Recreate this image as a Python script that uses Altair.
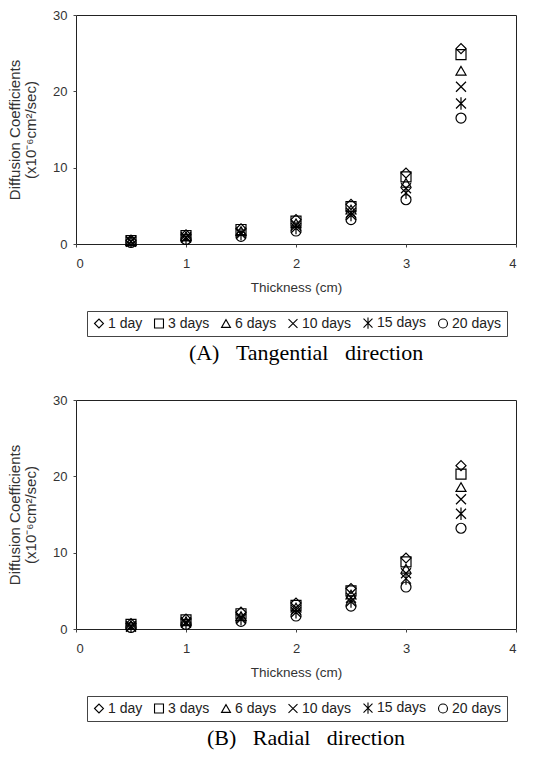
import altair as alt
import pandas as pd

thickness = [0.5, 1.0, 1.5, 2.0, 2.5, 3.0, 3.5]
series = ["1 day", "3 days", "6 days", "10 days", "15 days", "20 days"]

tang_1 = [0.5, 1.2, 2.0, 3.2, 5.2, 9.3, 25.6]
tang_3 = [0.45, 1.1, 1.9, 3.0, 4.9, 8.8, 24.8]
tang_6 = [0.4, 1.0, 1.7, 2.7, 4.5, 8.0, 22.7]
tang_10 = [0.35, 0.9, 1.5, 2.4, 4.1, 7.3, 20.6]
tang_15 = [0.3, 0.8, 1.3, 2.1, 3.8, 6.7, 18.4]
tang_20 = [0.2, 0.6, 1.0, 1.7, 3.2, 5.8, 16.5]

rad_1 = [0.7, 1.3, 2.2, 3.4, 5.3, 9.3, 21.4]
rad_3 = [0.6, 1.2, 2.0, 3.1, 5.0, 8.8, 20.3]
rad_6 = [0.5, 1.0, 1.7, 2.8, 4.5, 7.9, 18.6]
rad_10 = [0.4, 0.9, 1.5, 2.5, 4.1, 7.3, 17.0]
rad_15 = [0.3, 0.8, 1.3, 2.2, 3.6, 6.6, 15.1]
rad_20 = [0.2, 0.6, 1.0, 1.7, 3.0, 5.5, 13.2]

x_path = "M-1,-1L1,1M-1,1L1,-1"
ast_path = "M-1,-1L1,1M-1,1L1,-1M0,-1.25L0,1.25"
shapes = ["diamond", "square", "triangle-up", x_path, ast_path, "circle"]

SP = "\u00a0\u00a0\u00a0"


def make_df(cols):
    rows = []
    for s, vals in zip(series, cols):
        for t, v in zip(thickness, vals):
            rows.append({"Thickness": t, "D": v, "Days": s})
    return pd.DataFrame(rows)


df_a = make_df([tang_1, tang_3, tang_6, tang_10, tang_15, tang_20])
df_b = make_df([rad_1, rad_3, rad_6, rad_10, rad_15, rad_20])


def panel(df, title):
    return alt.Chart(df).mark_point(
        filled=False, color="black", strokeWidth=1.2, size=100, opacity=1
    ).encode(
        x=alt.X("Thickness:Q", scale=alt.Scale(domain=[0, 4]),
                axis=alt.Axis(title="Thickness (cm)", values=[0, 1, 2, 3, 4],
                              format="d", titlePadding=10, labelPadding=10,
                              titleFontSize=13.5)),
        y=alt.Y("D:Q", scale=alt.Scale(domain=[0, 30]),
                axis=alt.Axis(title=["Diffusion Coefficients", "(x10⁻⁶cm²/sec)"],
                              values=[0, 10, 20, 30], titlePadding=14,
                              titleFontSize=15, titleLineHeight=16)),
        shape=alt.Shape("Days:N", sort=series,
                        scale=alt.Scale(domain=series, range=shapes),
                        legend=alt.Legend(orient="none", legendX=11, legendY=296,
                                          direction="horizontal", title=None,
                                          strokeColor="#444", padding=5,
                                          symbolSize=80, symbolStrokeWidth=1.1,
                                          symbolStrokeColor="black",
                                          labelFontSize=14, labelOffset=2,
                                          columnPadding=9, labelColor="#222",
                                          labelFont="Liberation Sans")),
    ).properties(
        width=440, height=229,
        title=alt.TitleParams(title, orient="bottom", font="Liberation Serif",
                              fontSize=22, fontWeight="normal", color="black",
                              offset=6, dx=10),
    )


chart = alt.vconcat(
    panel(df_a, "(A)" + SP + "Tangential" + SP + "direction"),
    panel(df_b, "(B)" + SP + "Radial" + SP + "direction"),
    spacing=29,
).resolve_scale(shape="independent").resolve_legend(shape="independent").configure_view(
    stroke="#222", strokeWidth=1
).configure_axis(
    grid=False, domain=False, ticks=True, tickSize=3, tickColor="#444",
    labelFont="Liberation Sans", labelFontSize=13, labelColor="#333", labelPadding=6,
    titleFont="Liberation Sans", titleFontSize=12, titleFontWeight="normal",
    titleColor="#333",
).properties(
    padding={"left": 7, "top": 8, "right": 14, "bottom": 5}
)

chart.save("out.html", embed_options={"renderer": "svg", "actions": False})
